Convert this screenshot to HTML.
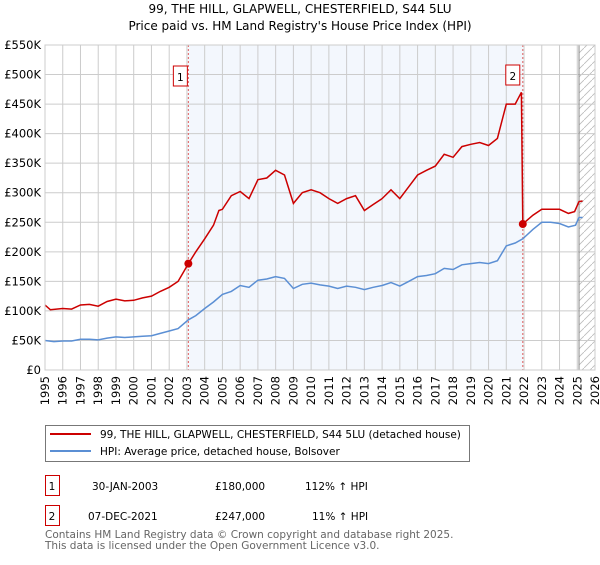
<!DOCTYPE html>
<html><head><meta charset="utf-8"><style>
body{margin:0;background:#fff;font-family:"Liberation Sans","DejaVu Sans",sans-serif;}
svg text{font-family:"DejaVu Sans","Liberation Sans",sans-serif;}
</style></head><body>
<svg id="c" width="600" height="560" xmlns="http://www.w3.org/2000/svg">
<defs><pattern id="hatch" width="8" height="8" patternUnits="userSpaceOnUse"><path d="M0,8 L8,0" stroke="#bbb" stroke-width="0.8"/></pattern></defs>
<text x="300" y="13" text-anchor="middle" font-size="12">99, THE HILL, GLAPWELL, CHESTERFIELD, S44 5LU</text>
<text x="300" y="30" text-anchor="middle" font-size="12">Price paid vs. HM Land Registry's House Price Index (HPI)</text>
<g id="plot"></g>
<g>
<rect x="45.5" y="425.5" width="424" height="36" fill="#fff" stroke="#777"/>
<line x1="50" y1="434" x2="91" y2="434" stroke="#cc0000" stroke-width="2"/>
<text x="100" y="438" font-size="10.5">99, THE HILL, GLAPWELL, CHESTERFIELD, S44 5LU (detached house)</text>
<line x1="50" y1="451" x2="91" y2="451" stroke="#5b8fd4" stroke-width="2"/>
<text x="100" y="455" font-size="10.5">HPI: Average price, detached house, Bolsover</text>
</g>
<g font-size="10.5">
<rect x="45.5" y="475.5" width="14" height="20" fill="#fff" stroke="#cc0000"/><text x="52" y="490" text-anchor="middle">1</text>
<text x="92" y="490">30-JAN-2003</text><text x="215" y="490">£180,000</text><text x="305" y="490">112% ↑ HPI</text>
<rect x="45.5" y="505.5" width="14" height="20" fill="#fff" stroke="#cc0000"/><text x="52" y="520" text-anchor="middle">2</text>
<text x="88" y="520">07-DEC-2021</text><text x="215" y="520">£247,000</text><text x="312" y="520">11% ↑ HPI</text>
</g>
<text x="45" y="538" font-size="10.5" fill="#666">Contains HM Land Registry data © Crown copyright and database right 2025.</text>
<text x="45" y="549" font-size="10.5" fill="#666">This data is licensed under the Open Government Licence v3.0.</text>
</svg>
<script>
const yTicks=[0,50,100,150,200,250,300,350,400,450,500,550];
const yTickLabels=["£0","£50K","£100K","£150K","£200K","£250K","£300K","£350K","£400K","£450K","£500K","£550K"];
const years=[1995,1996,1997,1998,1999,2000,2001,2002,2003,2004,2005,2006,2007,2008,2009,2010,2011,2012,2013,2014,2015,2016,2017,2018,2019,2020,2021,2022,2023,2024,2025,2026];
const hpiX=[1995,1995.5,1996,1996.5,1997,1997.5,1998,1998.5,1999,1999.5,2000,2000.5,2001,2001.5,2002,2002.5,2003.08,2003.5,2004,2004.5,2005,2005.5,2006,2006.5,2007,2007.5,2008,2008.5,2009,2009.5,2010,2010.5,2011,2011.5,2012,2012.5,2013,2013.5,2014,2014.5,2015,2015.5,2016,2016.5,2017,2017.5,2018,2018.5,2019,2019.5,2020,2020.5,2021,2021.5,2021.93,2022.5,2023,2023.5,2024,2024.5,2024.9,2025.1,2025.3];
const hpiY=[50,48,49,49,52,52,51,54,56,55,56,57,58,62,66,70,85,92,104,115,128,133,143,140,152,154,158,155,138,145,147,144,142,138,142,140,136,140,143,148,142,150,158,160,163,172,170,178,180,182,180,185,210,215,222,238,250,250,248,242,245,258,258];
const propX=[1995,1995.3,1996,1996.5,1997,1997.5,1998,1998.5,1999,1999.5,2000,2000.5,2001,2001.5,2002,2002.5,2003.08,2003.5,2004,2004.5,2004.8,2005,2005.5,2006,2006.5,2007,2007.5,2008,2008.5,2009,2009.5,2010,2010.5,2011,2011.5,2012,2012.5,2013,2013.5,2014,2014.5,2015,2015.5,2016,2016.5,2017,2017.5,2018,2018.5,2019,2019.5,2020,2020.5,2021,2021.5,2021.85,2021.93,2022.5,2023,2023.5,2024,2024.5,2024.85,2025.1,2025.3];
const propY=[110,102,104,103,110,111,108,116,120,117,118,122,125,133,140,150,180,200,222,245,270,272,295,302,290,322,325,338,330,282,300,305,300,290,282,290,295,270,280,290,305,290,310,330,338,345,365,360,378,382,385,380,392,450,450,470,247,262,272,272,272,265,268,285,286];
const salesX=[2003.08,2021.93];
const salesY=[180,247];
const salesLabel=["1","2"];

const L=45,R=595,T=45,B=370;
const sx=v=>L+(v-1995)/31*(R-L);
const sy=v=>B-v/550*(B-T);
const NS="http://www.w3.org/2000/svg";
const g=document.getElementById('plot');
function mk(t,a,p){const e=document.createElementNS(NS,t);for(const k in a)e.setAttribute(k,a[k]);(p||g).appendChild(e);return e;}
const shade=mk('rect',{x:sx(salesX[0]),y:T,width:sx(salesX[1])-sx(salesX[0]),height:B-T,fill:'#eef3fc',opacity:0.7});


const hat=mk('rect',{x:sx(2025.1),y:T,width:R-sx(2025.1),height:B-T,fill:'url(#hatch)'});


yTicks.forEach((v,i)=>{
 const ln=mk('line',{x1:L,x2:R,y1:sy(v),y2:sy(v),stroke:'#ccc'});
 
 
 const t=mk('text',{x:L-4,y:sy(v)+4,'text-anchor':'end','font-size':11.5});
 t.textContent=yTickLabels[i];
 
 
});
years.forEach(y=>{
 const ln=mk('line',{x1:sx(y),x2:sx(y),y1:T,y2:B,stroke:'#ccc'});
 
 
 const t=mk('text',{x:0,y:0,'text-anchor':'end','font-size':11.5,transform:`translate(${sx(y)+4},${B+6}) rotate(-90)`});
 t.textContent=y;
 
 
});
const fr=mk('line',{x1:sx(2025.1),x2:sx(2025.1),y1:T,y2:B,stroke:'#888'});


salesX.forEach(x=>{
 const d=mk('line',{x1:sx(x),x2:sx(x),y1:T,y2:B,stroke:'#e06060','stroke-dasharray':'2,2'});
 
 
});
const path=(xs,ys)=>xs.map((x,i)=>(i?'L':'M')+sx(x).toFixed(1)+','+sy(ys[i]).toFixed(1)).join('');
const hp=mk('path',{d:path(hpiX,hpiY),fill:'none',stroke:'#5b8fd4','stroke-width':1.5});


const pp=mk('path',{d:path(propX,propY),fill:'none',stroke:'#cc0000','stroke-width':1.5});


salesX.forEach((x,i)=>{
 const c=mk('circle',{cx:sx(x),cy:sy(salesY[i]),r:4,fill:'#cc0000'});
 
 
 const bx=sx(x)-(i?10:8);
 const r=mk('rect',{x:bx-7,y:i?65:66,width:14,height:20,fill:'#fff',stroke:'#cc0000'});
 
 
 const t=mk('text',{x:bx,y:i?80:81,'text-anchor':'middle','font-size':10.5});
 t.textContent=salesLabel[i];
 
 
});
const ax=mk('rect',{x:L,y:T,width:R-L,height:B-T,fill:'none',stroke:'#ccc'});


</script>
</body></html>
